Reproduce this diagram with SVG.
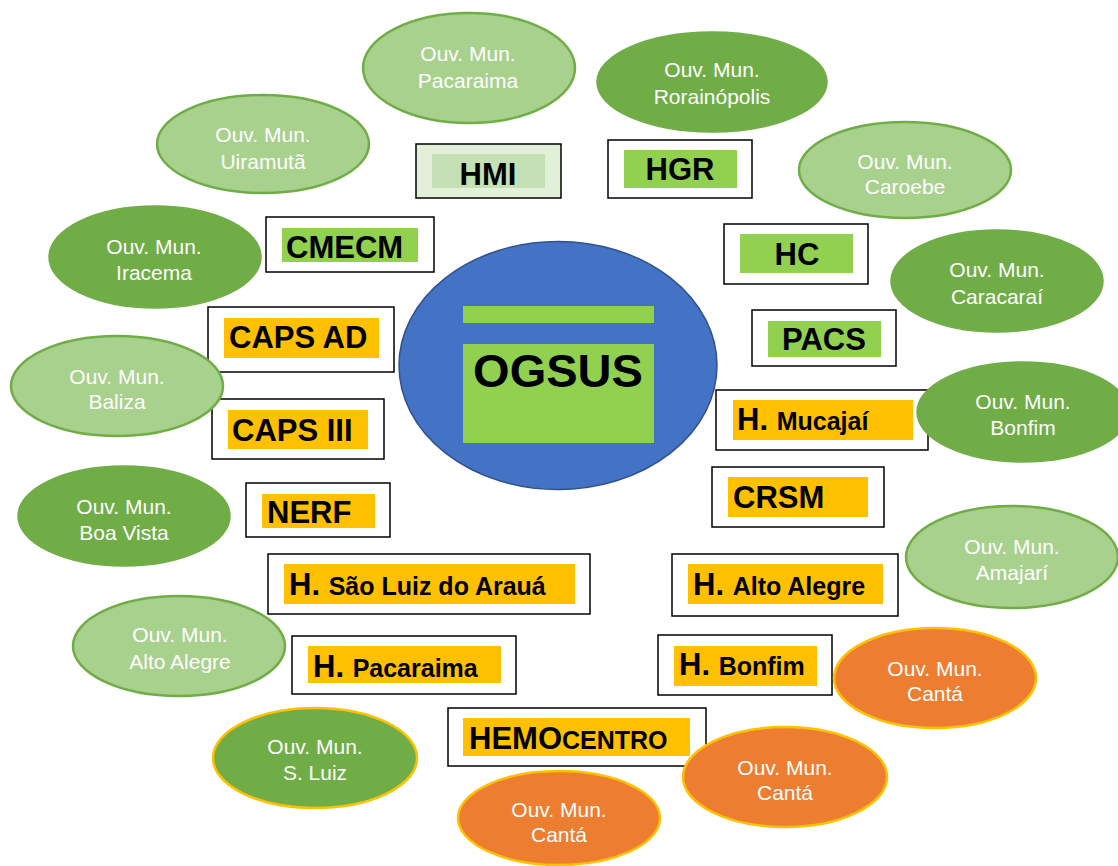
<svg xmlns="http://www.w3.org/2000/svg" width="1118" height="866" viewBox="0 0 1118 866">
<style>
.box{fill:#fff;stroke:#000;stroke-width:1.5}
.org{fill:#FFC000}
.grn{fill:#92D050}
.bt{font-family:"Liberation Sans",Arial,sans-serif;font-weight:bold;font-size:31px;fill:#000}
.sm{font-size:25px}
.lt{fill:#A9D18E;stroke:#70AD47;stroke-width:2.5}
.dk{fill:#70AD47;stroke:#70AD47;stroke-width:1.5}
.dky{fill:#70AD47;stroke:#FFC000;stroke-width:2.5}
.or{fill:#ED7D31;stroke:#FFC000;stroke-width:2.5}
.et{font-family:"Liberation Sans",Arial,sans-serif;font-size:21px;fill:#fff;text-anchor:middle}
</style>
<rect width="1118" height="866" fill="#fff"/>

<g id="ogsus">
<ellipse cx="558" cy="365.5" rx="159" ry="124" fill="#4472C4" stroke="#2F528F" stroke-width="1.5"/>
<rect x="463" y="306" width="191" height="17" class="grn"/>
<rect x="463" y="344" width="191" height="99" class="grn"/>
<text x="558" y="387" class="bt" text-anchor="middle" style="font-size:47px">OGSUS</text>
</g>

<g id="hmi">
<rect x="416" y="144" width="145" height="54" fill="#E2F0D9" stroke="#000" stroke-width="1.5"/>
<rect x="432" y="154" width="113" height="34" fill="#C5E0B4"/>
<text x="488" y="185" class="bt" text-anchor="middle">HMI</text>
</g>
<g id="hgr">
<rect x="608" y="140" width="144" height="58" class="box"/>
<rect x="624" y="150" width="113" height="38" class="grn"/>
<text x="680" y="180" class="bt" text-anchor="middle">HGR</text>
</g>
<g id="cmecm">
<rect x="266" y="217" width="168" height="55" class="box"/>
<rect x="282" y="228" width="136" height="34" class="grn"/>
<text x="286" y="258" class="bt">CMECM</text>
</g>
<g id="hc">
<rect x="724" y="224" width="144" height="60" class="box"/>
<rect x="740" y="234" width="113" height="39" class="grn"/>
<text x="797" y="265" class="bt" text-anchor="middle">HC</text>
</g>
<g id="pacs">
<rect x="752" y="310" width="144" height="56" class="box"/>
<rect x="768" y="321" width="113" height="36" class="grn"/>
<text x="824" y="350" class="bt" text-anchor="middle">PACS</text>
</g>
<g id="capsad">
<rect x="208" y="307" width="186" height="65" class="box"/>
<rect x="224" y="318" width="155" height="40" class="org"/>
<text x="229" y="348" class="bt">CAPS AD</text>
</g>
<g id="capsiii">
<rect x="212" y="399" width="172" height="60" class="box"/>
<rect x="228" y="410" width="140" height="39" class="org"/>
<text x="232" y="441" class="bt">CAPS III</text>
</g>
<g id="hmucajai">
<rect x="716" y="390" width="212" height="60" class="box"/>
<rect x="733" y="400" width="180" height="40" class="org"/>
<text x="737" y="430" class="bt">H. <tspan class="sm">Mucajaí</tspan></text>
</g>
<g id="crsm">
<rect x="712" y="467" width="172" height="60" class="box"/>
<rect x="728" y="477" width="140" height="40" class="org"/>
<text x="733" y="508" class="bt">CRSM</text>
</g>
<g id="nerf">
<rect x="246" y="483" width="144" height="54" class="box"/>
<rect x="262" y="494" width="113" height="34" class="org"/>
<text x="267" y="523" class="bt">NERF</text>
</g>
<g id="hsaoluiz">
<rect x="268" y="554" width="322" height="60" class="box"/>
<rect x="284" y="564" width="291" height="40" class="org"/>
<text x="289" y="595" class="bt">H. <tspan class="sm">São Luiz do Arauá</tspan></text>
</g>
<g id="haltoalegre">
<rect x="672" y="554" width="226" height="62" class="box"/>
<rect x="688" y="564" width="195" height="40" class="org"/>
<text x="693" y="595" class="bt">H. <tspan class="sm">Alto Alegre</tspan></text>
</g>
<g id="hpacaraima">
<rect x="292" y="636" width="224" height="58" class="box"/>
<rect x="308" y="646" width="193" height="37" class="org"/>
<text x="313" y="677" class="bt">H. <tspan class="sm">Pacaraima</tspan></text>
</g>
<g id="hbonfim">
<rect x="658" y="635" width="174" height="60" class="box"/>
<rect x="674" y="646" width="143" height="40" class="org"/>
<text x="679" y="675" class="bt">H. <tspan class="sm">Bonfim</tspan></text>
</g>
<g id="hemocentro">
<rect x="448" y="708" width="258" height="58" class="box"/>
<rect x="463" y="718" width="227" height="38" class="org"/>
<text x="469" y="749" class="bt">HEMO<tspan style="font-size:25px">CENTRO</tspan></text>
</g>

<g id="ouv-pacaraima">
<ellipse cx="469" cy="68" rx="106" ry="55" class="lt"/>
<text class="et"><tspan x="468" y="61">Ouv. Mun.</tspan><tspan x="468" y="88">Pacaraima</tspan></text>
</g>
<g id="ouv-uiramuta">
<ellipse cx="263" cy="144" rx="106" ry="49" class="lt"/>
<text class="et"><tspan x="263" y="142">Ouv. Mun.</tspan><tspan x="263" y="169">Uiramutã</tspan></text>
</g>
<g id="ouv-rorainopolis">
<ellipse cx="712" cy="82" rx="115" ry="50" class="dk"/>
<text class="et"><tspan x="712" y="77">Ouv. Mun.</tspan><tspan x="712" y="104">Rorainópolis</tspan></text>
</g>
<g id="ouv-caroebe">
<ellipse cx="905" cy="170" rx="106" ry="48" class="lt"/>
<text class="et"><tspan x="905" y="169">Ouv. Mun.</tspan><tspan x="905" y="194">Caroebe</tspan></text>
</g>
<g id="ouv-iracema">
<ellipse cx="155" cy="257" rx="106" ry="51" class="dk"/>
<text class="et"><tspan x="154" y="254">Ouv. Mun.</tspan><tspan x="154" y="280">Iracema</tspan></text>
</g>
<g id="ouv-baliza">
<ellipse cx="117" cy="386" rx="106" ry="50" class="lt"/>
<text class="et"><tspan x="117" y="384">Ouv. Mun.</tspan><tspan x="117" y="409">Baliza</tspan></text>
</g>
<g id="ouv-caracarai">
<ellipse cx="997" cy="281" rx="106" ry="51" class="dk"/>
<text class="et"><tspan x="997" y="277">Ouv. Mun.</tspan><tspan x="997" y="304">Caracaraí</tspan></text>
</g>
<g id="ouv-bonfim">
<ellipse cx="1023" cy="412" rx="106" ry="50" class="dk"/>
<text class="et"><tspan x="1023" y="409">Ouv. Mun.</tspan><tspan x="1023" y="435">Bonfim</tspan></text>
</g>
<g id="ouv-boavista">
<ellipse cx="124" cy="516" rx="106" ry="50" class="dk"/>
<text class="et"><tspan x="124" y="514">Ouv. Mun.</tspan><tspan x="124" y="540">Boa Vista</tspan></text>
</g>
<g id="ouv-amajari">
<ellipse cx="1012" cy="557" rx="106" ry="51" class="lt"/>
<text class="et"><tspan x="1012" y="554">Ouv. Mun.</tspan><tspan x="1012" y="580">Amajarí</tspan></text>
</g>
<g id="ouv-altoalegre">
<ellipse cx="179" cy="646" rx="106" ry="50" class="lt"/>
<text class="et"><tspan x="180" y="642">Ouv. Mun.</tspan><tspan x="180" y="669">Alto Alegre</tspan></text>
</g>
<g id="ouv-canta-1">
<ellipse cx="935" cy="678" rx="101" ry="50" class="or"/>
<text class="et"><tspan x="935" y="676">Ouv. Mun.</tspan><tspan x="935" y="701">Cantá</tspan></text>
</g>
<g id="ouv-canta-2">
<ellipse cx="785" cy="777" rx="102" ry="50" class="or"/>
<text class="et"><tspan x="785" y="775">Ouv. Mun.</tspan><tspan x="785" y="800">Cantá</tspan></text>
</g>
<g id="ouv-canta-3">
<ellipse cx="559" cy="818" rx="101" ry="47" class="or"/>
<text class="et"><tspan x="559" y="817">Ouv. Mun.</tspan><tspan x="559" y="842">Cantá</tspan></text>
</g>
<g id="ouv-sluiz">
<ellipse cx="315" cy="758" rx="102" ry="50" class="dky"/>
<text class="et"><tspan x="315" y="754">Ouv. Mun.</tspan><tspan x="315" y="780">S. Luiz</tspan></text>
</g>
</svg>
